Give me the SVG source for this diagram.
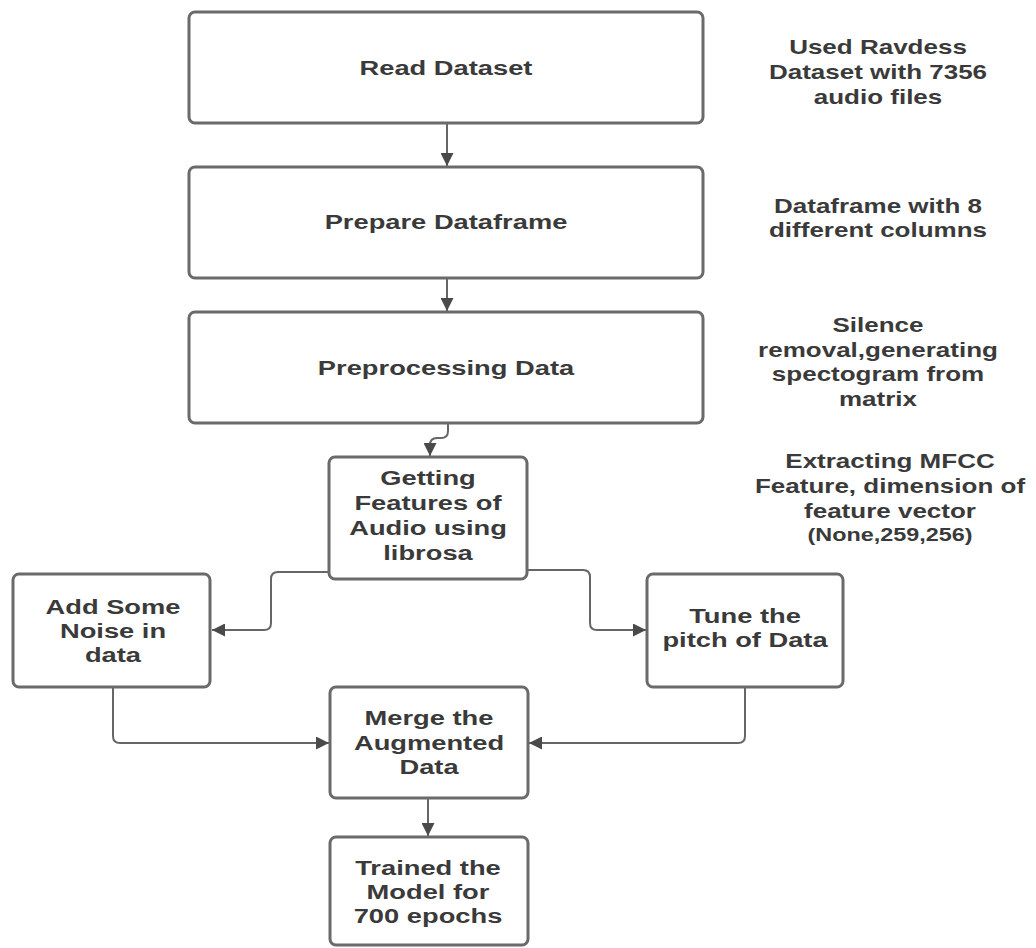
<svg xmlns="http://www.w3.org/2000/svg" width="1036" height="948" viewBox="0 0 1036 948">
<defs>
<style>
.box{fill:#fff;stroke:#6a6a6a;stroke-width:3}
.t{font-family:"Liberation Sans",Arial,sans-serif;font-weight:bold;font-size:21px;fill:#3a3a3a;text-anchor:middle}
.n{font-size:20px}
.s{font-size:18px}
.c{fill:none;stroke:#666;stroke-width:2}
</style>
<marker id="ah" viewBox="0 0 10 10" refX="10" refY="5" markerWidth="14" markerHeight="13" markerUnits="userSpaceOnUse" orient="auto">
<path d="M0,0 L10,5 L0,10 Z" fill="#4a4a4a"/>
</marker>
</defs>
<rect width="1036" height="948" fill="#fff"/>
<g id="connectors">
<path class="c" d="M447,123 V166" marker-end="url(#ah)"/>
<path class="c" d="M447,278 V311" marker-end="url(#ah)"/>
<path class="c" d="M448,423 V431 Q448,438 441,438 H437 Q430,438 430,445 V456" marker-end="url(#ah)"/>
<path class="c" d="M329,572 H278 Q271,572 271,579 V623 Q271,630 264,630 H212" marker-end="url(#ah)"/>
<path class="c" d="M527,570 H583 Q590,570 590,577 V623 Q590,630 597,630 H646" marker-end="url(#ah)"/>
<path class="c" d="M113,687 V736 Q113,743 120,743 H329" marker-end="url(#ah)"/>
<path class="c" d="M745,687 V736 Q745,743 738,743 H529" marker-end="url(#ah)"/>
<path class="c" d="M428,798 V836" marker-end="url(#ah)"/>
</g>
<g id="read">
<rect class="box" x="189" y="12" width="514" height="111" rx="6"/>
<g transform="translate(446,0) scale(1.3,1)"><text class="t" x="0" y="75">Read Dataset</text></g>
</g>
<g id="prepare">
<rect class="box" x="189" y="167" width="514" height="111" rx="6"/>
<g transform="translate(446,0) scale(1.3,1)"><text class="t" x="0" y="229">Prepare Dataframe</text></g>
</g>
<g id="preprocess">
<rect class="box" x="189" y="312" width="514" height="111" rx="6"/>
<g transform="translate(446,0) scale(1.3,1)"><text class="t" x="0" y="375">Preprocessing Data</text></g>
</g>
<g id="features">
<rect class="box" x="329" y="457" width="198" height="122" rx="6"/>
<g transform="translate(428,0) scale(1.3,1)"><text class="t" x="0" y="485">Getting</text><text class="t" x="0" y="510">Features of</text><text class="t" x="0" y="535">Audio using</text><text class="t" x="0" y="560">librosa</text></g>
</g>
<g id="noise">
<rect class="box" x="13" y="574" width="197" height="113" rx="6"/>
<g transform="translate(113,0) scale(1.3,1)"><text class="t" x="0" y="614">Add Some</text><text class="t" x="0" y="638">Noise in</text><text class="t" x="0" y="662">data</text></g>
</g>
<g id="pitch">
<rect class="box" x="647" y="574" width="196" height="113" rx="6"/>
<g transform="translate(745,0) scale(1.3,1)"><text class="t" x="0" y="623">Tune the</text><text class="t" x="0" y="647">pitch of Data</text></g>
</g>
<g id="merge">
<rect class="box" x="330" y="687" width="198" height="111" rx="6"/>
<g transform="translate(429,0) scale(1.3,1)"><text class="t" x="0" y="725">Merge the</text><text class="t" x="0" y="750">Augmented</text><text class="t" x="0" y="774">Data</text></g>
</g>
<g id="train">
<rect class="box" x="330" y="837" width="198" height="108" rx="6"/>
<g transform="translate(428,0) scale(1.3,1)"><text class="t" x="0" y="875">Trained the</text><text class="t" x="0" y="899">Model for</text><text class="t" x="0" y="923">700 epochs</text></g>
</g>
<g id="note1" transform="translate(878,0) scale(1.3,1)">
<text class="t n" x="0" y="54">Used Ravdess</text><text class="t n" x="0" y="79">Dataset with 7356</text><text class="t n" x="0" y="104">audio files</text>
</g>
<g id="note2" transform="translate(878,0) scale(1.3,1)">
<text class="t n" x="0" y="213">Dataframe with 8</text><text class="t n" x="0" y="237">different columns</text>
</g>
<g id="note3" transform="translate(878,0) scale(1.3,1)">
<text class="t n" x="0" y="332">Silence</text><text class="t n" x="0" y="357">removal,generating</text><text class="t n" x="0" y="381">spectogram from</text><text class="t n" x="0" y="406">matrix</text>
</g>
<g id="note4" transform="translate(890,0) scale(1.3,1)">
<text class="t n" x="0" y="468">Extracting MFCC</text><text class="t n" x="0" y="493">Feature, dimension of</text><text class="t n" x="0" y="518">feature vector</text><text class="t s" x="0" y="541">(None,259,256)</text>
</g>
</svg>
